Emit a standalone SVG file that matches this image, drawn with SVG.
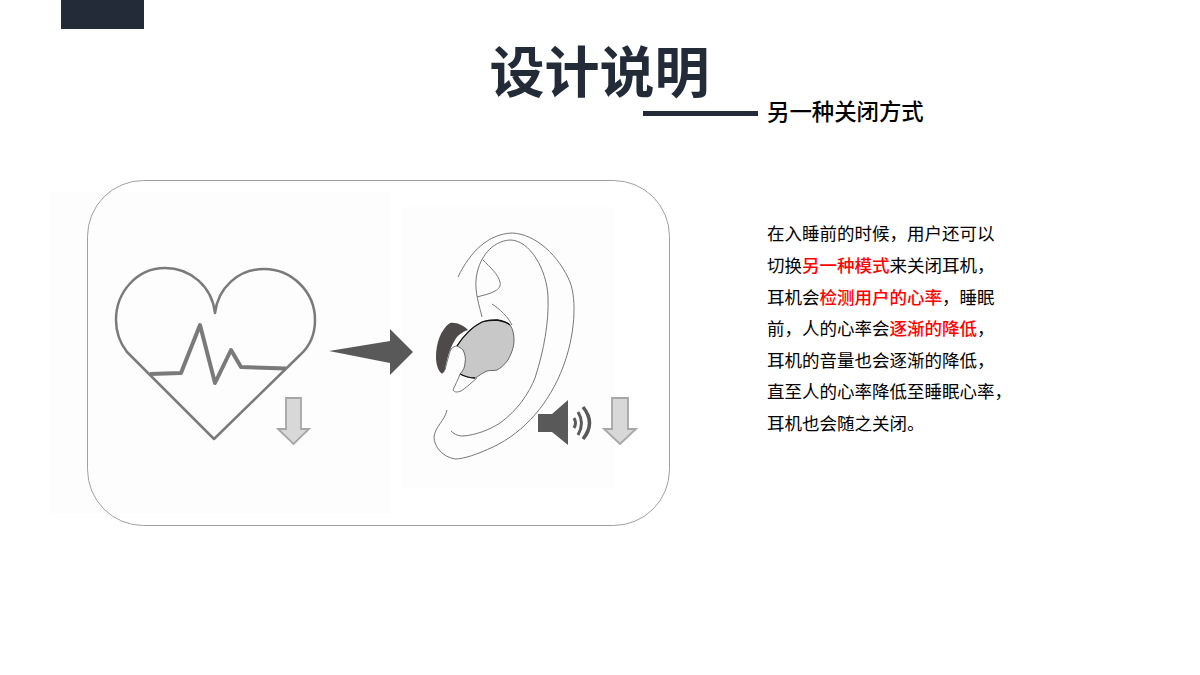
<svg xmlns="http://www.w3.org/2000/svg" width="1200" height="675" viewBox="0 0 1200 675">
<style>
text{font-family:"Noto Sans CJK SC","Liberation Sans",sans-serif}
.b{font-size:17.5px;fill:#000;font-weight:400}
.r{fill:#f00;font-weight:500}
.ear{fill:none;stroke:#777;stroke-width:1}
.down{fill:#d8d8d8;stroke:#a6a6a6;stroke-width:1.800}
</style>
<rect width="1200" height="675" fill="#fff"/>
<g id="corner"><rect x="61" y="0" width="83" height="29" fill="#232b38"/></g>
<g id="title"><text x="489.500" y="91.500" font-size="55" font-weight="700" fill="#232b38">设计说明</text></g>
<g id="subtitle"><rect x="643" y="111" width="115" height="5" fill="#232b38"/>
<text x="767" y="120" font-size="22.400" font-weight="500" fill="#000">另一种关闭方式</text></g>
<g id="frame"><rect x="50" y="192" width="341" height="322" fill="#fdfdfd"/>
<rect x="402" y="207" width="213" height="281" fill="#fdfdfd"/>
<rect x="87.500" y="180.500" width="582" height="345" rx="56" fill="none" stroke="#a0a0a0" stroke-width="1"/></g>
<g id="heart" fill="none" stroke="#7a7a7a">
<path d="M215 313C212 286 190 268 165 268C137 268 116 292 116 320C116 332 120 343 127 352L214 439L300 355C309 347 315 335 315 320C315 292 292 269 264 269C238 269 218 288 215 313Z" stroke-width="2.500" stroke-linejoin="round"/>
<path d="M150 374L181 373L200 325L215 383L231 350L241 367L286 368.500" stroke-width="4" stroke-linejoin="round"/>
</g>
<g id="arrow-right"><path d="M329 351L390 341V329L413 352L390 375V363Z" fill="#595959"/></g>
<g id="down-left"><path class="down" d="M286 398H301V429H309L293.500 444L278 429H286Z"/></g>
<g id="ear">
<path class="ear" d="M458 277C470 252 488 234 512 233C536 234 559 256 570 282C577 300 575 336 563 367C550 402 525 432 493 447C478 454 464 459 455 459C443 457 434 447 434 437C435 427 445 420 447 410"/>
<path class="ear" d="M451 431C455 435 459 436 463 436C476 435 489 430 500 423C518 410 529 393 535 378C544 350 549 322 548 297C547 270 530 240 510 240C492 241 478 258 476 280C475 292 479 305 482 317"/>
<path class="ear" d="M483 260C490 267 498 274 500 282C501 286 499 289 495 291C490 294 484 295 477 297"/>
<path class="ear" d="M492 304C500 309 508 317 512 325"/>
<path d="M436 357C436 343 441 329 450 323C457 322 464 326 468 330C462 332 457 336 455 340C450 348 447 358 445 370C444 373 442 374 441 373C438 370 436 364 436 357Z" fill="#4f4a4a"/>
<path d="M457 346C464 335 472 327 482 322C488 320 492 320 497 320C503 321 508 323 510 325C513 329 514 335 514 340C514 348 511 354 508 360C504 365 501 368 497 370C493 371 490 370 487 371C482 373 479 376 475 378C469 378 464 376 460 374C463 371 465 367 465 363C466 358 465 354 463 350C461 348 459 347 457 346Z" fill="#c8c8c8" stroke="#666" stroke-width="1"/>
<path d="M457 346C464 335 472 327 482 322C488 320 492 320 497 320C503 321 508 323 510 325" fill="none" stroke="#111" stroke-width="1.300"/>
<path d="M460 374C464 376 469 378 475 378" fill="none" stroke="#111" stroke-width="1.300"/>
<path class="ear" d="M445 370C447 362 449 354 451 349C453 347 455 346 457 346M460 374C458 380 455 385 453 390C455 393 458 392 461 391C466 388 472 382 477 378"/>
</g>
<g id="speaker" fill="#595959">
<path d="M538 414H552L568 400V445L552 432H538Z"/>
<g fill="none" stroke="#595959"><path d="M574 418Q577 423 574 428" stroke-width="3"/><path d="M578 412Q585 423 578 435" stroke-width="3"/><path d="M583 407Q596 423 583 439" stroke-width="3.500"/></g>
</g>
<g id="down-right"><path class="down" d="M612 398H628V429H636L620 444L604 429H612Z"/></g>
<g id="description">
<text class="b" x="767" y="240">在入睡前的时候，用户还可以</text>
<text class="b" x="767" y="272">切换<tspan class="r">另一种模式</tspan>来关闭耳机，</text>
<text class="b" x="767" y="303.500">耳机会<tspan class="r">检测用户的心率</tspan>，睡眠</text>
<text class="b" x="767" y="335">前，人的心率会<tspan class="r">逐渐的降低</tspan>，</text>
<text class="b" x="767" y="366.500">耳机的音量也会逐渐的降低，</text>
<text class="b" x="767" y="398">直至人的心率降低至睡眠心率，</text>
<text class="b" x="767" y="429.500">耳机也会随之关闭。</text>
</g>
</svg>
